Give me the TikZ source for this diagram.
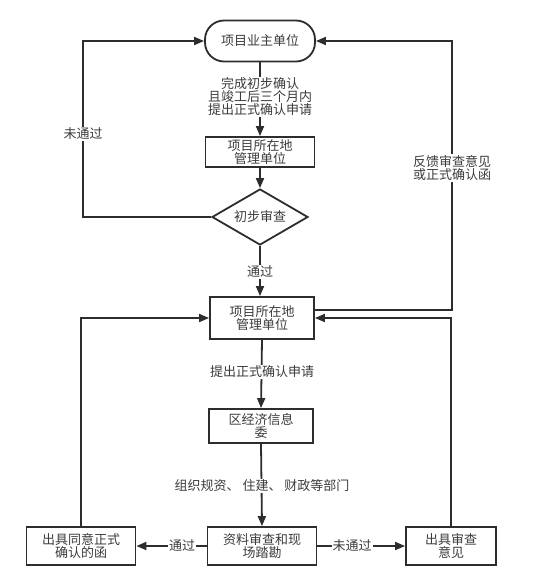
\documentclass[tikz,border=0pt]{standalone}
\usepackage{fontspec}
\setmainfont{Noto Sans CJK SC}
\usetikzlibrary{arrows.meta,shapes.geometric}
\definecolor{ln}{RGB}{45,45,45}
\definecolor{tx}{RGB}{60,60,60}
\begin{document}
\begin{tikzpicture}[x=1pt,y=-1pt,
  every node/.style={text=tx,font=\fontsize{13}{13}\selectfont,align=center,inner sep=1pt},
  box/.style={draw=ln,line width=1.8pt,rectangle,inner sep=0pt},
  conn/.style={draw=ln,line width=1.8pt,-{Triangle[length=10pt,width=8pt]}},
  plain/.style={draw=ln,line width=1.8pt},
  lbl/.style={fill=white,inner sep=1pt}]
\useasboundingbox (0,0) rectangle (550,586);
\fill[white] (0,0) rectangle (550,586);

\node[box,rounded corners=19pt,minimum width=110pt,minimum height=41pt] (owner) at (260,41) {项目业主单位};
\node[box,minimum width=109pt,minimum height=30pt] (mgr1) at (260,152) {项目所在地\\管理单位};
\node[box,shape=diamond,shape aspect=1.7,minimum width=96pt,minimum height=56pt] (dia) at (260,217) {初步审查};
\node[box,minimum width=104pt,minimum height=42pt] (mgr2) at (262,318) {项目所在地\\管理单位};
\node[box,minimum width=104pt,minimum height=34pt] (eco) at (261,426) {区经济信息\\委};
\node[box,minimum width=109pt,minimum height=38pt] (rev) at (262,546) {资料审查和现\\场踏勘};
\node[box,minimum width=109pt,minimum height=38pt] (agree) at (81,546) {出具同意正式\\确认的函};
\node[box,minimum width=90pt,minimum height=38pt] (opin) at (451,546) {出具审查\\意见};

\coordinate (c1) at (83,217);
\coordinate (c2) at (83,41);
\coordinate (c3) at (452,310);
\coordinate (c4) at (452,41);
\coordinate (c5) at (451,318);
\coordinate (c6) at (81,318);

\draw[conn] (owner.south) -- (mgr1.north);
\node[lbl] (t1) at (260,97) {完成初步确认\\且竣工后三个月内\\提出正式确认申请};
\draw[conn] (mgr1.south) -- (dia.north);
\draw[conn] (dia.west) -- (c1) -- (c2) -- (owner.west);
\node[lbl] (t2) at (83,134) {未通过};
\draw[conn] (dia.south) -- (dia.south |- mgr2.north);
\node[lbl] (t3) at (260,272) {通过};
\draw[conn] (mgr2.east |- c3) -- (c3) -- (c4) -- (owner.east);
\node[lbl] (t4) at (452,168) {反馈审查意见\\或正式确认函};
\draw[conn] (opin.north) -- (c5) -- (mgr2.east |- c5);
\draw[conn] (agree.north) -- (c6) -- (mgr2.west |- c6);
\draw[conn] (mgr2.south) -- (eco.north);
\node[lbl] (t5) at (262,372) {提出正式确认申请};
\draw[conn] (eco.south) -- (rev.north);
\node[lbl] (t6) at (262,486) {组织规资、 住建、 财政等部门};
\draw[conn] (rev.west) -- (agree.east);
\node[lbl] (t7) at (182,546) {通过};
\draw[conn] (rev.east) -- (opin.west);
\node[lbl] (t8) at (352,546) {未通过};
\end{tikzpicture}
\end{document}
